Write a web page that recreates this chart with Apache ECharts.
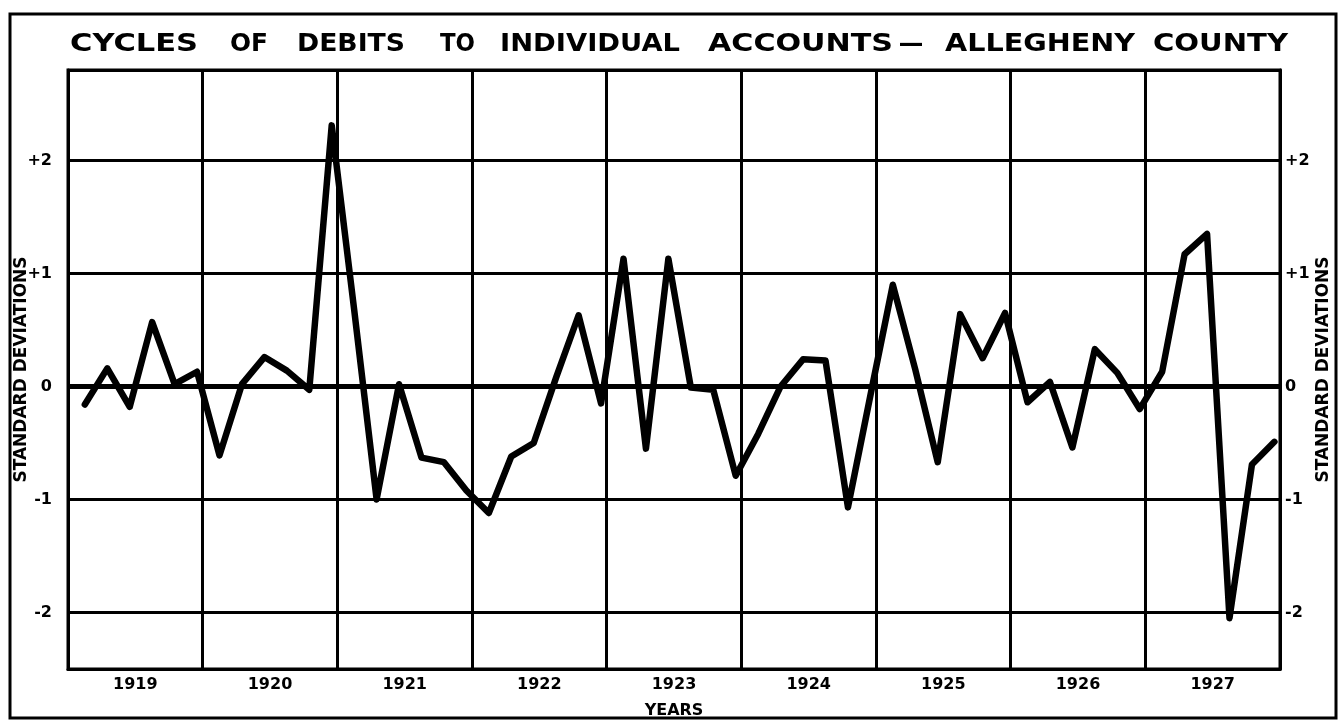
<!DOCTYPE html>
<html>
<head>
<meta charset="utf-8">
<title>Cycles of Debits to Individual Accounts - Allegheny County</title>
<script src="https://cdn.jsdelivr.net/npm/echarts@6/dist/echarts.min.js"></script>
<style>
  html, body { margin: 0; padding: 0; background: #fff; }
  #chart { width: 1339px; height: 721px; }
</style>
</head>
<body>
<div id="chart"></div>
<script>
// years along the bottom
const years = ['1919', '1920', '1921', '1922', '1923', '1924', '1925', '1926', '1927'];

// bimonthly readings, 6 per year, in standard deviations
const values = [
  -0.16, 0.16, -0.18, 0.57, 0.02, 0.13,     // 1919
  -0.61, 0.02, 0.26, 0.14, -0.03, 2.31,     // 1920
  0.68, -1.0, 0.02, -0.63, -0.67, -0.92,    // 1921
  -1.12, -0.62, -0.5, 0.08, 0.63, -0.15,    // 1922
  1.13, -0.55, 1.13, -0.01, -0.03, -0.79,   // 1923
  -0.42, 0.0, 0.24, 0.23, -1.07, -0.08,     // 1924
  0.9, 0.15, -0.67, 0.64, 0.25, 0.65,       // 1925
  -0.14, 0.04, -0.54, 0.33, 0.12, -0.2,     // 1926
  0.13, 1.17, 1.35, -2.05, -0.69, -0.49     // 1927
];

// y tick labels
const yTicks = [-2, -1, 0, 1, 2];
const yTickLabels = ['-2', '-1', '0', '+1', '+2'];

// title, drawn word by word (hand lettered, widely spaced)
const titleWords = ['CYCLES', 'OF', 'DEBITS', 'TO', 'INDIVIDUAL', 'ACCOUNTS', '\u2013', 'ALLEGHENY', 'COUNTY'];
const titleSpans = [[70, 198], [230, 268], [297, 405], [440, 475], [500, 680], [708, 893], [897, 925], [945, 1135], [1153, 1288]];

const font = '"DejaVu Sans", "Liberation Sans", sans-serif';
const titleFont = 'bold 24px ' + font;

// measure words so each can be stretched to the lettering's width
const ctx = document.createElement('canvas').getContext('2d');
ctx.font = titleFont;

const titleGraphics = titleWords.map((w, i) => {
    const span = titleSpans[i];
    const width = ctx.measureText(w).width;
    return {
        type: 'text',
        x: (span[0] + span[1]) / 2,
        y: 45,
        scaleX: (span[1] - span[0]) / width,
        style: {
            text: w,
            x: 0,
            y: 0,
            font: titleFont,
            fill: '#000',
            textAlign: 'center',
            textVerticalAlign: 'middle'
        }
    };
});

function tickLabel(v) {
    const i = yTicks.indexOf(v);
    return i < 0 ? '' : yTickLabels[i];
}

const labelStyle = {
    color: '#000',
    fontFamily: font,
    fontWeight: 'bold',
    fontSize: 16
};

const myChart = echarts.init(document.getElementById('chart'));

const option = {
    backgroundColor: '#fff',
    animation: false,
    graphic: [
        {
            type: 'rect',
            shape: { x: 10, y: 14, width: 1326, height: 704 },
            style: { fill: 'none', stroke: '#000', lineWidth: 3 },
            silent: true
        },
        ...titleGraphics
    ],
    grid: {
        left: 68,
        right: 59,
        top: 70,
        bottom: 52,
        outerBoundsMode: 'none',
        containLabel: false,
        show: true,
        borderColor: '#000',
        borderWidth: 3,
        backgroundColor: '#fff'
    },
    xAxis: [
        {
            // year columns: labels centred, gridlines at the year boundaries
            type: 'category',
            data: years,
            boundaryGap: true,
            axisLine: { onZero: false, lineStyle: { color: '#000', width: 3 } },
            axisTick: { show: false },
            axisLabel: Object.assign({ margin: 8, interval: 0 }, labelStyle),
            splitLine: { show: true, interval: 0, lineStyle: { color: '#000', width: 3 } },
            name: 'YEARS',
            nameLocation: 'middle',
            nameGap: 34,
            nameMoveOverlap: false,
            nameTextStyle: Object.assign({}, labelStyle, { fontSize: 16 })
        },
        {
            // bimonthly positions for the line
            type: 'value',
            min: -0.75,
            max: 53.25,
            show: false
        }
    ],
    yAxis: [
        {
            type: 'value',
            min: -2.5,
            max: 2.8,
            splitNumber: 5,
            position: 'left',
            axisLine: { show: true, onZero: false, lineStyle: { color: '#000', width: 3 } },
            axisTick: { show: false },
            axisLabel: Object.assign({
                margin: 16,
                showMinLabel: false,
                showMaxLabel: false,
                formatter: tickLabel
            }, labelStyle),
            splitLine: { show: true, lineStyle: { color: '#000', width: 3 } },
            name: 'STANDARD DEVIATIONS',
            nameLocation: 'middle',
            nameRotate: 90,
            nameGap: 38,
            nameMoveOverlap: false,
            nameTextStyle: Object.assign({}, labelStyle, { fontSize: 17 })
        },
        {
            type: 'value',
            min: -2.5,
            max: 2.8,
            splitNumber: 5,
            position: 'right',
            axisLine: { show: true, onZero: false, lineStyle: { color: '#000', width: 3 } },
            axisTick: { show: false },
            axisLabel: Object.assign({
                margin: 5,
                showMinLabel: false,
                showMaxLabel: false,
                formatter: tickLabel
            }, labelStyle),
            splitLine: { show: false },
            name: 'STANDARD DEVIATIONS',
            nameLocation: 'middle',
            nameRotate: 90,
            nameGap: 35,
            nameMoveOverlap: false,
            nameTextStyle: Object.assign({}, labelStyle, { fontSize: 17 })
        }
    ],
    series: [
        {
            type: 'line',
            xAxisIndex: 1,
            yAxisIndex: 0,
            data: values.map((v, i) => [i, v]),
            symbol: 'none',
            lineStyle: { color: '#000', width: 6.5, join: 'round', cap: 'round' },
            markLine: {
                silent: true,
                symbol: ['none', 'none'],
                label: { show: false },
                lineStyle: { color: '#000', width: 5, type: 'solid' },
                data: [{ yAxis: 0 }]
            },
            z: 5
        }
    ]
};

myChart.setOption(option);
</script>
</body>
</html>
